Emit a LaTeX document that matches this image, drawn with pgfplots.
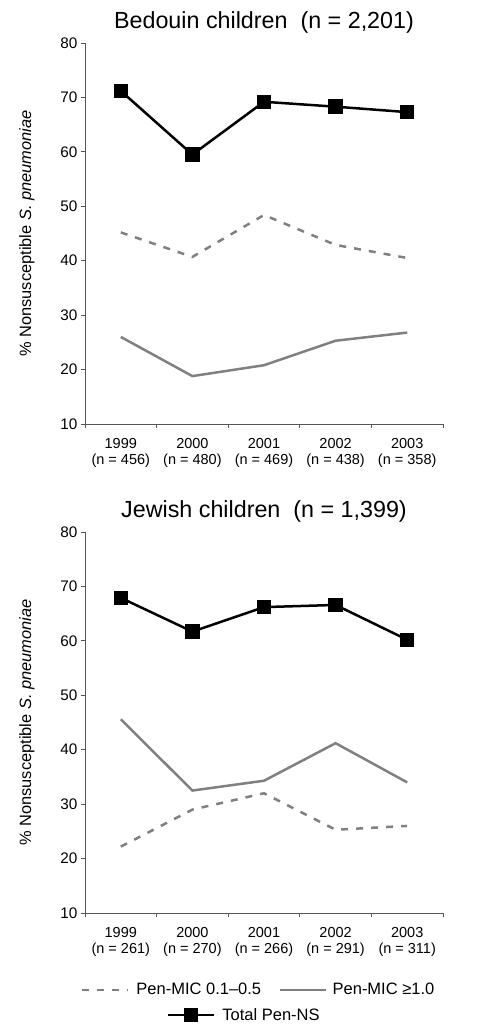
\documentclass[border=0pt]{standalone}
\usepackage{fontspec}
\setmainfont{Liberation Sans}
\usepackage{pgfplots}
\pgfplotsset{compat=1.18}
\definecolor{sergray}{HTML}{808080}
\definecolor{axgray}{HTML}{555555}

\pgfplotsset{
  myaxis/.style={
    width=358bp, height=381bp, scale only axis,
    xmin=0, xmax=5, ymin=10, ymax=80,
    axis x line*=bottom, axis y line*=left,
    axis line style={axgray, line width=0.8bp, -},
    /pgf/number format/assume math mode=true,
    ytick={10,20,...,80},
    xtick={0.5,1.5,2.5,3.5,4.5},
    minor xtick={0,1,2,3,4,5},
    tick align=outside,
    major tick length=4bp, minor tick length=4bp,
    major x tick style={draw=none},
    minor x tick style={axgray, line width=0.8bp},
    major y tick style={axgray, line width=0.8bp},
    yticklabel style={font=\fontsize{15.3bp}{17bp}\selectfont},
    xticklabel style={align=center, font=\fontsize{14.5bp}{16bp}\selectfont, yshift=-7bp},
    ylabel={\% Nonsusceptible \textit{S. pneumoniae}},
    ylabel style={at={(axis description cs:-0.162,0.5)}, anchor=center, font=\fontsize{16.4bp}{18bp}\selectfont},
    title style={font=\fontsize{23.3bp}{26bp}\selectfont, yshift=0bp},
  },
  dashser/.style={sergray, line width=2.5bp, dash pattern=on 7bp off 8bp},
  solidser/.style={sergray, line width=2.5bp},
  totser/.style={black, line width=2.5bp, mark=square*, mark size=6bp, mark options={solid, fill=black}},
}

\begin{document}
\begin{tikzpicture}
\path[use as bounding box] (0bp,0bp) rectangle (480bp,-1036bp);

% ---------- Bedouin ----------
\begin{axis}[myaxis, at={(85bp,-424bp)}, anchor=south west,
  title={Bedouin children\ \ (n = 2,201)},
  xticklabels={{1999\\(n = 456)},{2000\\(n = 480)},{2001\\(n = 469)},{2002\\(n = 438)},{2003\\(n = 358)}},
]
\addplot[dashser] coordinates {(0.5,45.2) (1.5,40.7) (2.5,48.4) (3.5,42.9) (4.5,40.5)};
\addplot[solidser] coordinates {(0.5,26.0) (1.5,18.8) (2.5,20.8) (3.5,25.3) (4.5,26.8)};
\addplot[totser] coordinates {(0.5,71.2) (1.5,59.5) (2.5,69.2) (3.5,68.3) (4.5,67.3)};
\end{axis}

% ---------- Jewish ----------
\begin{axis}[myaxis, at={(85bp,-913bp)}, anchor=south west,
  title={Jewish children\ \ (n = 1,399)},
  xticklabels={{1999\\(n = 261)},{2000\\(n = 270)},{2001\\(n = 266)},{2002\\(n = 291)},{2003\\(n = 311)}},
  legend columns=2,
  legend image code/.code={\draw[#1] (0bp,0bp) -- (46bp,0bp);},
  legend style={at={(axis description cs:0.485,-0.202)}, anchor=center, draw=none, fill=none,
    font=\fontsize{16.5bp}{18bp}\selectfont,
    /tikz/every even column/.append style={column sep=16bp}},
]
\addplot[dashser] coordinates {(0.5,22.2) (1.5,29.0) (2.5,32.0) (3.5,25.3) (4.5,26.0)};
\addlegendentry{\hspace{5bp}Pen-MIC 0.1–0.5}
\addplot[solidser] coordinates {(0.5,45.6) (1.5,32.5) (2.5,34.3) (3.5,41.2) (4.5,34.0)};
\addlegendentry{\hspace{3bp}Pen-MIC ≥1.0}
\addplot[totser, forget plot] coordinates {(0.5,67.9) (1.5,61.7) (2.5,66.2) (3.5,66.6) (4.5,60.2)};
\end{axis}

% ---------- legend for total ----------
\begin{axis}[width=358bp, height=381bp, scale only axis, hide axis,
  at={(85bp,-913bp)}, anchor=south west,
  xmin=0, xmax=5, ymin=10, ymax=80,
  legend image code/.code={\draw[#1, mark repeat=2, mark phase=2] plot coordinates {(0bp,0bp) (23bp,0bp) (46bp,0bp)};},
  legend style={at={(axis description cs:0.445,-0.268)}, anchor=center, draw=none, fill=none,
    font=\fontsize{16.5bp}{18bp}\selectfont},
]
\addlegendimage{totser}
\addlegendentry{\hspace{5bp}Total Pen-NS}
\end{axis}
\end{tikzpicture}
\end{document}
